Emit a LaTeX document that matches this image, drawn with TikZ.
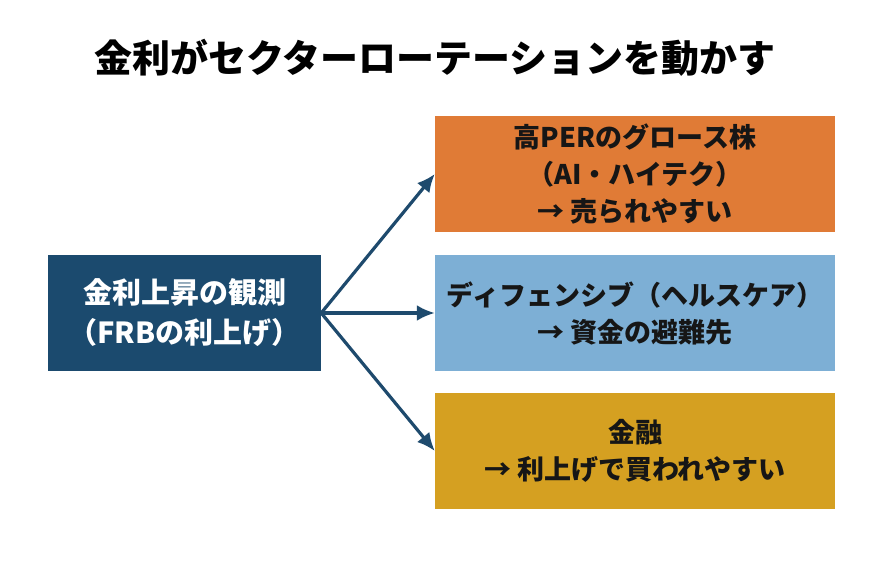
\documentclass[tikz,border=0pt]{standalone}
\usepackage{fontspec}
\setmainfont{Noto Sans CJK JP}
\usetikzlibrary{arrows.meta}
\definecolor{navybox}{HTML}{1B4A6E}
\definecolor{arrowblue}{HTML}{1E4A6D}
\definecolor{orangebox}{HTML}{E07B36}
\definecolor{skybox}{HTML}{7DAFD5}
\definecolor{goldbox}{HTML}{D5A021}
\definecolor{inkdark}{HTML}{161616}

\begin{document}
\begin{tikzpicture}[x=1pt,y=1pt,yscale=-1,
  box/.style={minimum height=116pt, inner sep=0pt, align=center,
    font=\fontsize{27}{37}\selectfont\bfseries, text=inkdark},
  sectorbox/.style={box, minimum width=400pt},
  link/.style={draw=arrowblue, line width=3.2pt, -{Latex[length=18pt,width=16pt]}}]
\useasboundingbox (0,0) rectangle (870,583);

% Title
\node (title) at (435,58) [font=\fontsize{38}{40}\selectfont\bfseries] {金利がセクターローテーションを動かす};

%Shape: Rectangle (cause)
\node (rate) at (184.5,313) [box, minimum width=273pt, fill=navybox, text=white,
  font=\fontsize{29}{40}\selectfont\bfseries] {金利上昇の観測\\（FRBの利上げ）};

%Shape: Rectangle (sectors)
\node (growth) at (635,174) [sectorbox, fill=orangebox] {高PERのグロース株\\（AI・ハイテク）\\→ 売られやすい};
\node (defense) at (635,313) [sectorbox, fill=skybox] {ディフェンシブ（ヘルスケア）\\→ 資金の避難先};
\node (finance) at (635,451) [sectorbox, fill=goldbox] {金融\\→ 利上げで買われやすい};

% Arrows
\draw [link] (rate.east) -- (growth.west);
\draw [link] (rate.east) -- (defense.west);
\draw [link] (rate.east) -- (finance.west);

\end{tikzpicture}
\end{document}
